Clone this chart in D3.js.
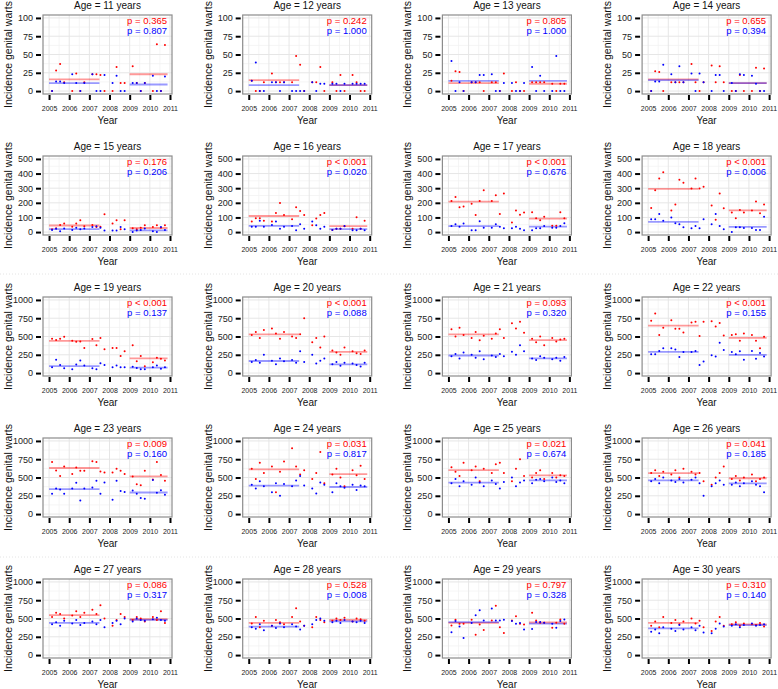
<!DOCTYPE html>
<html>
<head>
<meta charset="utf-8">
<script src="https://cdn.jsdelivr.net/npm/d3@7"></script>
<style>
  body { margin: 0; background: #fff; }
  text { font-family: "Liberation Sans", Arial, sans-serif; }
</style>
</head>
<body>
<svg width="778" height="689"></svg>
<script>
// Panels: one per age
var ages = [11, 12, 13, 14, 15, 16, 17, 18, 19, 20, 21, 22, 23, 24, 25, 26, 27, 28, 29, 30];
var years = [2005, 2006, 2007, 2008, 2009, 2010, 2011];
// four observations per year, as fraction of the year
var quarterTimes = [0.15, 0.35, 0.55, 0.75];

// y-axis maximum and ticks per row
var rowMax = [100, 500, 1000, 1000, 1000];
var rowTicks = [
  [0, 25, 50, 75, 100],
  [0, 100, 200, 300, 400, 500],
  [0, 250, 500, 750, 1000],
  [0, 250, 500, 750, 1000],
  [0, 250, 500, 750, 1000]
];

// red series (24 quarterly values 2005-2010), one row per age
var redValues = [
  [0,28,37,12, 0,24,0,12, 23,23,22,0, 0,33,11,11, 34,11,0,11, 0,64,0,63],
  [14,0,0,12, 24,12,12,12, 12,48,36,0, 12,12,33,0, 12,0,22,0, 22,12,0,0],
  [14,27,26,0, 12,12,12,0, 12,12,0,24, 0,12,0,0, 12,12,12,12, 10,0,10,10],
  [0,27,26,0, 12,12,12,12, 37,12,0,12, 35,12,34,12, 0,0,22,0, 0,32,0,31],
  [19,26,49,58, 37,58,81,40, 49,35,37,121, 58,81,19,81, 26,19,30,47, 35,47,30,47],
  [72,95,95,77, 72,130,198,116, 88,170,144,116, 47,93,116,130, 14,23,23,40, 23,102,23,77],
  [212,240,170,175, 193,116,212,286, 212,251,123,263, 65,147,119,133, 135,95,81,105, 44,44,135,95],
  [165,286,367,409, 147,188,358,337, 298,367,298,309, 181,84,263,163, 133,95,151,133, 147,209,128,188],
  [470,451,470,498, 442,428,433,344, 465,381,479,326, 344,344,233,298, 381,163,233,93, 149,209,195,172],
  [520,560,480,590, 610,540,470,560, 500,480,530,750, 420,480,350,500, 310,280,250,350, 300,270,260,310],
  [600,500,620,520, 480,560,450,510, 470,540,600,480, 680,610,700,550, 470,420,500,380, 480,430,460,470],
  [716,814,521,619, 721,605,605,553, 693,702,507,702, 707,637,684,512, 521,530,442,540, 521,442,340,498],
  [712,595,521,651, 549,637,591,591, 721,712,581,567, 567,619,591,549, 512,409,395,591, 474,712,535,456],
  [620,480,700,560, 650,300,580,720, 900,650,540,600, 480,560,850,420, 540,620,500,380, 600,530,660,480],
  [640,580,520,700, 600,650,450,620, 560,680,700,560, 450,620,750,520, 500,560,600,480, 560,500,530,520],
  [560,600,520,580, 540,600,500,620, 580,540,560,450, 400,500,560,650, 480,520,460,500, 540,450,480,500],
  [520,580,560,500, 540,600,520,580, 620,560,680,500, 400,480,560,520, 480,520,500,460, 520,480,600,440],
  [430,520,380,470, 400,480,450,420, 520,640,460,400, 380,520,480,450, 470,500,480,510, 460,500,490,470],
  [405,484,428,428, 484,279,419,344, 474,674,381,302, 474,530,428,419, 577,474,442,442, 372,442,488,428],
  [400,460,380,520, 440,480,420,460, 500,430,470,380, 330,460,520,400, 420,450,400,430, 420,410,440,390]
];

// blue series
var blueValues = [
  [0,13,13,11, 23,11,0,11, 23,0,0,22, 11,21,0,0, 11,11,0,11, 21,0,0,20],
  [14,39,0,0, 12,12,0,12, 0,0,0,0, 12,0,10,10, 10,10,0,10, 10,10,10,10],
  [41,0,12,0, 12,12,22,22, 23,0,0,11, 11,0,0,11, 33,0,21,0, 0,48,0,0],
  [0,13,13,36, 23,12,34,12, 24,0,24,12, 0,22,22,0, 11,0,23,22, 21,10,0,0],
  [15,22,5,25, 15,30,20,25, 35,40,30,10, 10,10,35,20, 0,10,15,25, 5,0,35,15],
  [37,37,77,37, 49,72,23,37, 42,12,53,23, 72,47,23,37, 14,23,23,42, 12,12,23,12],
  [42,53,37,58, 12,12,74,30, 30,53,37,26, 26,37,23,12, 12,26,26,42, 30,30,42,60],
  [88,88,123,77, 100,60,53,33, 26,42,26,88, 53,123,42,19, 0,33,33,28, 28,14,14,105],
  [79,181,112,65, 51,116,172,102, 65,51,135,112, 79,102,79,79, 88,70,51,51, 79,102,60,79],
  [150,180,140,250, 170,120,200,160, 180,140,300,150, 250,130,170,200, 120,150,100,140, 130,110,90,140],
  [230,260,200,280, 250,210,300,190, 240,220,260,230, 290,250,380,300, 200,180,230,210, 190,210,170,220],
  [256,256,302,340, 340,321,219,288, 288,302,112,158, 242,228,414,316, 288,256,298,181, 302,195,274,228],
  [279,349,335,279, 349,428,186,349, 363,456,279,433, 195,456,316,302, 321,279,219,209, 465,293,326,265],
  [400,350,450,380, 300,420,250,410, 380,460,520,390, 350,280,430,400, 300,420,380,360, 400,330,390,380],
  [420,480,380,450, 400,500,430,380, 460,410,350,440, 500,380,430,460, 420,470,480,450, 500,440,460,420],
  [450,480,420,500, 460,440,480,430, 470,500,420,250, 380,420,460,400, 400,430,380,420, 450,400,380,300],
  [420,450,400,470, 430,480,410,440, 460,420,480,380, 440,470,420,500, 460,500,480,470, 490,510,480,470],
  [380,360,420,340, 400,370,430,380, 420,390,350,400, 420,480,500,470, 450,470,440,480, 460,450,470,440],
  [312,465,391,233, 437,544,614,474, 637,474,474,484, 465,428,437,349, 358,451,451,442, 428,372,465,488],
  [320,350,300,380, 360,330,410,350, 380,340,400,310, 300,360,430,390, 400,420,380,410, 430,400,410,420]
];

// period means (before: 2005-mid 2007, after: 2009-2010)
var redMeanBefore  = [16, 15, 11, 16, 45, 110, 208, 295, 440, 530, 530, 650, 630, 610, 600, 560, 545, 440, 440, 440];
var redMeanAfter   = [23, 8, 10, 11, 28, 40, 92, 148, 200, 290, 450, 480, 515, 545, 530, 490, 490, 480, 445, 420];
var blueMeanBefore = [11, 8, 14, 15, 20, 42, 40, 70, 95, 165, 240, 290, 340, 390, 430, 460, 440, 390, 450, 365];
var blueMeanAfter  = [9, 8, 14, 11, 12, 20, 37, 35, 75, 120, 200, 250, 295, 370, 460, 420, 480, 460, 430, 410];
var periodBefore = [2005, 2007.5];
var periodAfter = [2009, 2010.88];

var pRedText = ["p = 0.365", "p = 0.242", "p = 0.805", "p = 0.655", "p = 0.176", "p < 0.001", "p < 0.001", "p < 0.001",
  "p < 0.001", "p < 0.001", "p = 0.093", "p < 0.001", "p = 0.009", "p = 0.031", "p = 0.021", "p = 0.041",
  "p = 0.086", "p = 0.528", "p = 0.797", "p = 0.310"];
var pBlueText = ["p = 0.807", "p = 1.000", "p = 1.000", "p = 0.394", "p = 0.206", "p = 0.020", "p = 0.676", "p = 0.006",
  "p = 0.137", "p = 0.088", "p = 0.320", "p = 0.155", "p = 0.160", "p = 0.817", "p = 0.674", "p = 0.185",
  "p = 0.317", "p = 0.008", "p = 0.328", "p = 0.140"];

var svg = d3.select("svg");
var w = 129, h = 79;

// time of each observation
var times = [];
years.slice(0, 6).forEach(function(yr) {
  quarterTimes.forEach(function(q) { times.push(yr + q); });
});

// faint row separators
[274, 557].forEach(function(yy) {
  svg.append("line")
    .attr("x1", 0).attr("x2", 778).attr("y1", yy).attr("y2", yy)
    .attr("stroke", "#e4e4e4").attr("stroke-dasharray", "1,2");
});

ages.forEach(function(age, i) {
  var c = i % 4, r = Math.floor(i / 4);
  var left = 43 + 199.7 * c, top = 15 + 141 * r;
  var ymax = rowMax[r];

  var x = d3.scaleLinear().domain([2004.7, 2011.1]).range([left, left + w]);
  var y = d3.scaleLinear().domain([-0.04 * ymax, 1.04 * ymax]).range([top + h, top]);

  var g = svg.append("g");

  // grid: minor then major
  var ticks = rowTicks[r];
  var step = ticks[1] - ticks[0];
  var minorY = ticks.slice(0, -1).map(function(t) { return t + step / 2; });
  var minorX = years.slice(0, -1).map(function(t) { return t + 0.5; });

  g.selectAll(".minorx").data(minorX).enter().append("line")
    .attr("x1", x).attr("x2", x).attr("y1", top).attr("y2", top + h)
    .attr("stroke", "#f3f3f3").attr("stroke-width", 0.8);
  g.selectAll(".minory").data(minorY).enter().append("line")
    .attr("x1", left).attr("x2", left + w).attr("y1", y).attr("y2", y)
    .attr("stroke", "#f3f3f3").attr("stroke-width", 0.8);
  g.selectAll(".majorx").data(years).enter().append("line")
    .attr("x1", x).attr("x2", x).attr("y1", top).attr("y2", top + h)
    .attr("stroke", "#e6e6e6").attr("stroke-width", 1);
  g.selectAll(".majory").data(ticks).enter().append("line")
    .attr("x1", left).attr("x2", left + w).attr("y1", y).attr("y2", y)
    .attr("stroke", "#e6e6e6").attr("stroke-width", 1);

  // period mean segments
  var segs = [
    { x0: periodBefore[0], x1: periodBefore[1], v: redMeanBefore[i], col: "rgba(255,0,0,0.4)" },
    { x0: periodAfter[0], x1: periodAfter[1], v: redMeanAfter[i], col: "rgba(255,0,0,0.4)" },
    { x0: periodBefore[0], x1: periodBefore[1], v: blueMeanBefore[i], col: "rgba(0,0,255,0.4)" },
    { x0: periodAfter[0], x1: periodAfter[1], v: blueMeanAfter[i], col: "rgba(0,0,255,0.4)" }
  ];
  g.selectAll(".seg").data(segs).enter().append("line")
    .attr("x1", function(d) { return x(d.x0); })
    .attr("x2", function(d) { return x(d.x1); })
    .attr("y1", function(d) { return y(d.v); })
    .attr("y2", function(d) { return y(d.v); })
    .attr("stroke", function(d) { return d.col; })
    .attr("stroke-width", 1.8);

  // points
  g.selectAll(".red").data(redValues[i]).enter().append("circle")
    .attr("cx", function(d, k) { return x(times[k]); })
    .attr("cy", function(d) { return y(d); })
    .attr("r", 1).attr("fill", "#ff0000");
  g.selectAll(".blue").data(blueValues[i]).enter().append("circle")
    .attr("cx", function(d, k) { return x(times[k]); })
    .attr("cy", function(d) { return y(d); })
    .attr("r", 1).attr("fill", "#0000ff");

  // box
  g.append("rect")
    .attr("x", left).attr("y", top).attr("width", w).attr("height", h)
    .attr("fill", "none").attr("stroke", "#8c8c8c").attr("stroke-width", 1.2);

  // y axis
  var ya = g.append("g")
    .attr("transform", "translate(" + (left - 2) + ",0)")
    .call(d3.axisLeft(y).tickValues(ticks).tickFormat(d3.format("d")).tickSize(5).tickPadding(3));
  ya.select(".domain").remove();
  ya.selectAll("line").attr("stroke", "#000").attr("stroke-width", 2);
  ya.selectAll("text").attr("font-size", 9).attr("fill", "#222")
    .style("font-family", "'Liberation Sans', Arial, sans-serif");

  // x axis
  var xa = g.append("g")
    .attr("transform", "translate(0," + (top + h + 1) + ")")
    .call(d3.axisBottom(x).tickValues(years).tickFormat(d3.format("d")).tickSize(5).tickPadding(6));
  xa.select(".domain").remove();
  xa.selectAll("line").attr("stroke", "#000").attr("stroke-width", 2);
  xa.selectAll("text").attr("font-size", 7).attr("fill", "#222")
    .style("font-family", "'Liberation Sans', Arial, sans-serif");

  // titles
  g.append("text")
    .attr("x", left + w / 2).attr("y", top - 6)
    .attr("text-anchor", "middle").attr("font-size", 10).attr("fill", "#111")
    .text("Age = " + age + " years");
  g.append("text")
    .attr("x", left + w / 2).attr("y", top + h + 30)
    .attr("text-anchor", "middle").attr("font-size", 10).attr("fill", "#111")
    .text("Year");
  g.append("text")
    .attr("transform", "translate(" + (left - 31) + "," + (top + h / 2) + ") rotate(-90)")
    .attr("text-anchor", "middle").attr("font-size", 10.5).attr("fill", "#111")
    .text("Incidence genital warts");

  // p values
  g.append("text")
    .attr("x", left + w - 5).attr("y", top + 9)
    .attr("text-anchor", "end").attr("font-size", 9.5).attr("fill", "#ff0000")
    .text(pRedText[i]);
  g.append("text")
    .attr("x", left + w - 5).attr("y", top + 19)
    .attr("text-anchor", "end").attr("font-size", 9.5).attr("fill", "#0000ff")
    .text(pBlueText[i]);
});
</script>
</body>
</html>
